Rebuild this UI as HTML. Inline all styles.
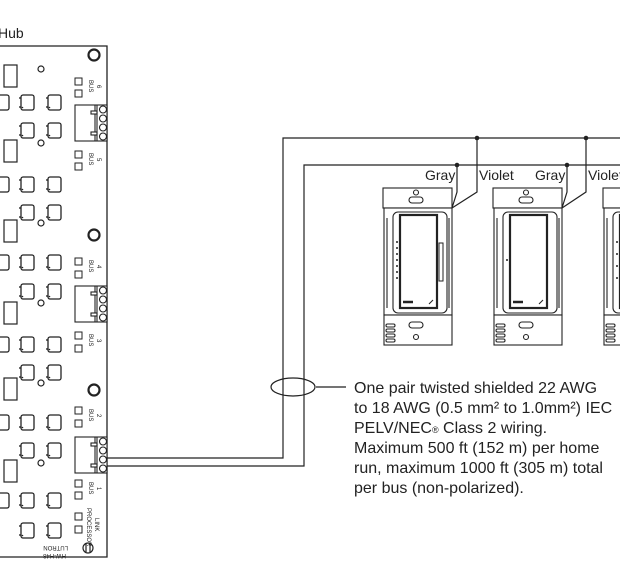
<!DOCTYPE html>
<html><head><meta charset="utf-8"><style>
html,body{margin:0;padding:0;background:#fff;}
svg{display:block;}
text{font-family:"Liberation Sans",sans-serif;fill:#222;}
</style></head><body>
<svg width="620" height="581" viewBox="0 0 620 581" xmlns="http://www.w3.org/2000/svg">
<defs>
<g id="cap" fill="#fff" stroke="#222" stroke-width="1.3">
<rect x="2" y="0" width="13" height="15" rx="2"/>
<line x1="0" y1="3" x2="2" y2="3"/><line x1="0" y1="12" x2="2" y2="12"/>
<circle cx="3.5" cy="12.5" r="0.8" fill="#222" stroke="none"/>
</g>
<g id="conn" fill="#fff" stroke="#222" stroke-width="1.1">
<rect x="0" y="0" width="32" height="36"/>
<line x1="20" y1="0" x2="20" y2="36"/>
<line x1="22" y1="0" x2="22" y2="36"/>
<rect x="16" y="6" width="6" height="3"/><rect x="16" y="27" width="6" height="3"/>
<circle cx="28" cy="4.5" r="3.5"/><circle cx="28" cy="13.5" r="3.5"/><circle cx="28" cy="22.5" r="3.5"/><circle cx="28" cy="31.5" r="3.5"/>
</g>
<g id="dev" fill="#fff" stroke="#222" stroke-width="1.1">
<rect x="0" y="0" width="69" height="20"/>
<circle cx="33" cy="4.5" r="2.5"/>
<rect x="26" y="9" width="14" height="6" rx="3"/>
<rect x="1" y="20" width="68" height="107"/>
<line x1="4" y1="30" x2="4" y2="120"/><line x1="66" y1="30" x2="66" y2="120"/>
<rect x="10" y="24" width="54" height="101" rx="5"/>
<rect x="17" y="27" width="37" height="93" stroke-width="2.2"/>
<rect x="1" y="127" width="68" height="30"/>
<rect x="26" y="134" width="14" height="6" rx="3"/>
<circle cx="33" cy="149" r="2.5"/>
<rect x="3" y="136" width="9" height="3" rx="1.5"/><rect x="3" y="141" width="9" height="3" rx="1.5"/><rect x="3" y="146" width="9" height="3" rx="1.5"/><rect x="3" y="151" width="9" height="3" rx="1.5"/>
<line x1="20" y1="114" x2="30" y2="114" stroke-width="2.5"/>
<line x1="46" y1="116" x2="50" y2="112"/>
</g>
</defs>

<text x="-2" y="38" font-size="14">Hub</text>

<!-- board -->
<path d="M-2 46 H107 V557 H-2" fill="none" stroke="#222" stroke-width="1.3"/>
<g fill="none" stroke="#222" stroke-width="1.2">
<circle cx="94" cy="55" r="5.5" stroke-width="2.2"/>
<circle cx="94" cy="235" r="5.5" stroke-width="2.2"/>
<circle cx="94" cy="390" r="5.5" stroke-width="2.2"/>
<circle cx="88" cy="548" r="5"/><line x1="86" y1="544" x2="86" y2="552"/><line x1="90" y1="544" x2="90" y2="552"/>
<rect x="4" y="65" width="13" height="22"/><rect x="4" y="140" width="13" height="22"/><rect x="4" y="220" width="13" height="22"/>
<rect x="4" y="302" width="13" height="22"/><rect x="4" y="378" width="13" height="22"/><rect x="4" y="460" width="13" height="22"/>
<circle cx="41" cy="69" r="3"/><circle cx="41" cy="143" r="3"/><circle cx="41" cy="223" r="3"/>
<circle cx="41" cy="303" r="3"/><circle cx="41" cy="383" r="3"/><circle cx="41" cy="463" r="3"/>
</g>
<g>
<use href="#cap" x="-6" y="95"/><use href="#cap" x="19" y="95"/><use href="#cap" x="46" y="95"/>
<use href="#cap" x="19" y="123"/><use href="#cap" x="46" y="123"/>
<use href="#cap" x="-6" y="177"/><use href="#cap" x="19" y="177"/><use href="#cap" x="46" y="177"/>
<use href="#cap" x="19" y="205"/><use href="#cap" x="46" y="205"/>
<use href="#cap" x="-6" y="255"/><use href="#cap" x="19" y="255"/><use href="#cap" x="46" y="255"/>
<use href="#cap" x="19" y="284"/><use href="#cap" x="46" y="284"/>
<use href="#cap" x="-6" y="337"/><use href="#cap" x="19" y="337"/><use href="#cap" x="46" y="337"/>
<use href="#cap" x="19" y="365"/><use href="#cap" x="46" y="365"/>
<use href="#cap" x="-6" y="415"/><use href="#cap" x="19" y="415"/><use href="#cap" x="46" y="415"/>
<use href="#cap" x="19" y="443"/><use href="#cap" x="46" y="443"/>
<use href="#cap" x="-6" y="493"/><use href="#cap" x="19" y="493"/><use href="#cap" x="46" y="493"/>
<use href="#cap" x="19" y="523"/><use href="#cap" x="46" y="523"/>
</g>
<use href="#conn" x="75" y="105"/>
<use href="#conn" x="75" y="286"/>
<use href="#conn" x="75" y="437"/>

<!-- bus labels -->
<g fill="#fff" stroke="#222" stroke-width="1">
<rect x="75" y="78" width="7" height="7"/><rect x="75" y="90" width="7" height="7"/>
<rect x="75" y="151" width="7" height="7"/><rect x="75" y="163" width="7" height="7"/>
<rect x="75" y="258" width="7" height="7"/><rect x="75" y="271" width="7" height="7"/>
<rect x="75" y="332" width="7" height="7"/><rect x="75" y="345" width="7" height="7"/>
<rect x="75" y="407" width="7" height="7"/><rect x="75" y="420" width="7" height="7"/>
<rect x="75" y="480" width="7" height="7"/><rect x="75" y="492" width="7" height="7"/>
<rect x="75" y="513" width="7" height="7"/><rect x="75" y="526" width="7" height="7"/>
</g>
<g font-size="6">
<text transform="translate(89,80) rotate(90)">BUS</text><text transform="translate(97,85) rotate(90)">6</text>
<text transform="translate(89,153) rotate(90)">BUS</text><text transform="translate(97,158) rotate(90)">5</text>
<text transform="translate(89,260) rotate(90)">BUS</text><text transform="translate(97,265) rotate(90)">4</text>
<text transform="translate(89,334) rotate(90)">BUS</text><text transform="translate(97,339) rotate(90)">3</text>
<text transform="translate(89,409) rotate(90)">BUS</text><text transform="translate(97,414) rotate(90)">2</text>
<text transform="translate(89,482) rotate(90)">BUS</text><text transform="translate(97,487) rotate(90)">1</text>
<text transform="translate(87,508) rotate(90)">PROCESSOR</text><text transform="translate(95,518) rotate(90)">LINK</text>
<text transform="translate(68,546) rotate(180)">LUTRON</text><text transform="translate(66,554) rotate(180)">HW-H48</text>
</g>

<!-- wiring -->
<g fill="none" stroke="#222" stroke-width="1.2">
<path d="M107 458 H283 V138 H620"/>
<path d="M107 466 H304 V165 H620"/>
<ellipse cx="293" cy="387" rx="22" ry="9"/>
<line x1="316" y1="387" x2="346" y2="387"/>
<path d="M457 165 V192 L452 208"/><path d="M477 138 V192 L452 208"/>
<path d="M567 165 V192 L562 208"/><path d="M586 138 V192 L562 208"/>
</g>
<g fill="#222">
<circle cx="457" cy="165" r="2.3"/><circle cx="477" cy="138" r="2.3"/>
<circle cx="567" cy="165" r="2.3"/><circle cx="586" cy="138" r="2.3"/>
</g>
<g font-size="14">
<text x="425" y="180">Gray</text><text x="479" y="180">Violet</text>
<text x="535" y="180">Gray</text><text x="588" y="180">Violet</text>
</g>

<use href="#dev" x="383" y="188"/>
<use href="#dev" x="493" y="188"/>
<use href="#dev" x="603" y="188"/>
<g fill="#222">
<circle cx="397" cy="242" r="1"/><circle cx="397" cy="248" r="1"/><circle cx="397" cy="254" r="1"/><circle cx="397" cy="260" r="1"/><circle cx="397" cy="266" r="1"/><circle cx="397" cy="272" r="1"/><circle cx="397" cy="278" r="1"/>
<circle cx="507" cy="260" r="1"/>
<circle cx="617" cy="242" r="1"/><circle cx="617" cy="254" r="1"/><circle cx="617" cy="266" r="1"/><circle cx="617" cy="278" r="1"/>
</g>
<rect x="439" y="243" width="4" height="38" fill="#fff" stroke="#222" stroke-width="1"/>

<g font-size="16">
<text x="354" y="393">One pair twisted shielded 22 AWG</text>
<text x="354" y="413">to 18 AWG (0.5 mm² to 1.0mm²) IEC</text>
<text x="354" y="433">PELV/NEC<tspan font-size="9">®</tspan> Class 2 wiring.</text>
<text x="354" y="453">Maximum 500 ft (152 m) per home</text>
<text x="354" y="473">run, maximum 1000 ft (305 m) total</text>
<text x="354" y="493">per bus (non-polarized).</text>
</g>
</svg>
</body></html>
